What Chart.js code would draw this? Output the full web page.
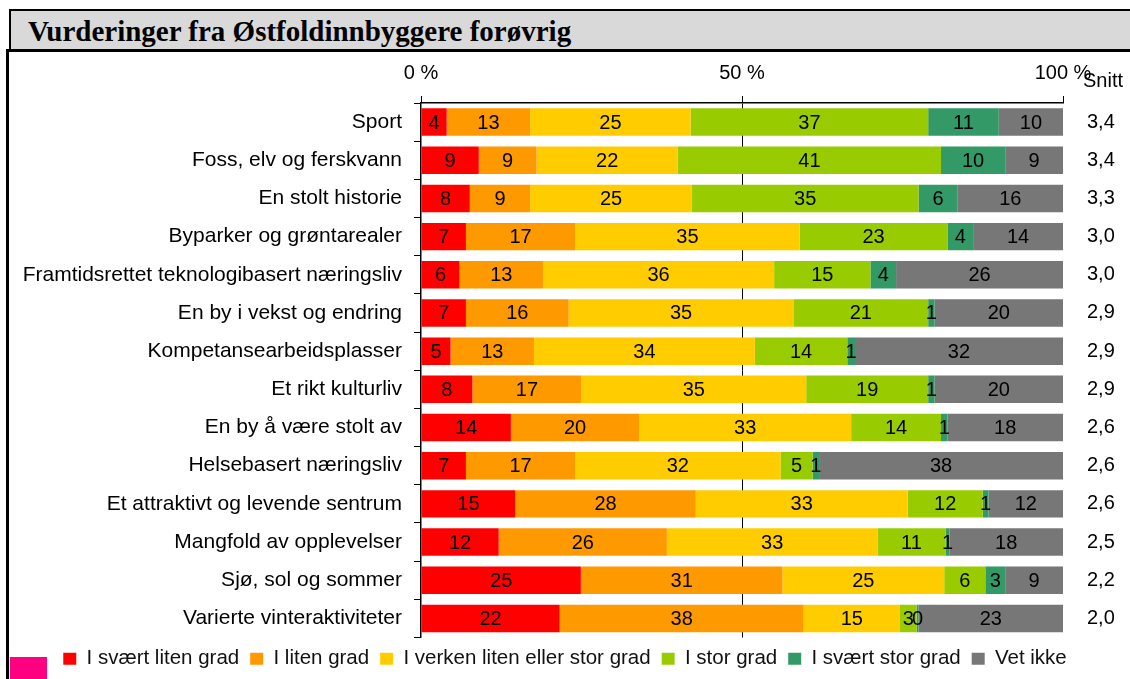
<!DOCTYPE html>
<html>
<head>
<meta charset="utf-8">
<script src="https://cdn.jsdelivr.net/npm/chart.js@4/dist/chart.umd.min.js"></script>
<style>
  html, body { margin: 0; padding: 0; background: #fff; }
  body { width: 1130px; height: 679px; position: relative; overflow: hidden; }
  #titlebox {
    position: absolute; left: 9px; top: 9px; width: 1130px; height: 39px;
    background: #d9d9d9; border: 2px solid #000; border-right: none;
    font-family: "Liberation Serif", "Times New Roman", serif; font-weight: bold;
    font-size: 29px; line-height: 41px; padding-left: 17px; box-sizing: content-box;
  }
  #frame {
    position: absolute; left: 6px; top: 49px; width: 1130px; height: 640px;
    border-left: 3px solid #000; border-top: 3px solid #000;
  }
  #pink { position: absolute; left: 10px; top: 657px; width: 37px; height: 24px; background: #ff0080; }
  #wrap { position: absolute; left: 0; top: 0; width: 1130px; height: 679px; }
</style>
</head>
<body>
<div id="titlebox">Vurderinger fra Østfoldinnbyggere forøvrig</div>
<div id="frame"></div>
<div id="pink"></div>
<div id="wrap"><canvas id="chart"></canvas></div>
<script>
// Kategorier
var categories = ["Sport", "Foss, elv og ferskvann", "En stolt historie", "Byparker og grøntarealer",
                  "Framtidsrettet teknologibasert næringsliv", "En by i vekst og endring",
                  "Kompetansearbeidsplasser", "Et rikt kulturliv", "En by å være stolt av",
                  "Helsebasert næringsliv", "Et attraktivt og levende sentrum", "Mangfold av opplevelser",
                  "Sjø, sol og sommer", "Varierte vinteraktiviteter"];
var seriesNames = ["I svært liten grad", "I liten grad", "I verken liten eller stor grad",
                   "I stor grad", "I svært stor grad", "Vet ikke"];
var svaertLiten = [4, 9, 7.6, 7, 6, 7, 4.6, 8, 14, 7, 14.7, 12.1, 24.9, 21.6];
var liten       = [13, 9, 9.4, 17, 13, 16, 13, 17, 20, 17, 28.1, 26.2, 31.4, 38];
var verken      = [25, 22, 25.2, 35, 36, 35, 34.4, 35, 33, 32, 33, 32.8, 25.2, 15];
var stor        = [37, 41, 35.3, 23, 15, 21, 14.4, 19, 14, 5, 11.7, 10.6, 6.4, 2.6];
var svaertStor  = [11, 10, 6.1, 4, 4, 1, 1.2, 1, 1, 1, 0.9, 0.6, 3.1, 0.3];
var vetIkke     = [10, 9, 16.4, 14, 26, 20, 32.4, 20, 18, 38, 11.6, 17.7, 9, 22.5];
var snitt = ["3,4", "3,4", "3,3", "3,0", "3,0", "2,9", "2,9", "2,9", "2,6", "2,6", "2,6", "2,5", "2,2", "2,0"];
var xTicks = [0, 50, 100];
var colors = ["#ff0000", "#ff9900", "#ffcc00", "#99cc00", "#339966", "#777777"];

var FONT = "'Liberation Sans', Arial, sans-serif";

// tall inne i stolpene
var barLabels = {
    id: "barLabels",
    afterDatasetsDraw: function(chart) {
        var ctx = chart.ctx;
        ctx.save();
        ctx.font = "20px " + FONT;
        ctx.fillStyle = "#000";
        ctx.textAlign = "center";
        ctx.textBaseline = "middle";
        chart.data.datasets.forEach(function(ds, i) {
            chart.getDatasetMeta(i).data.forEach(function(el, j) {
                var cx = (el.x + el.base) / 2;
                ctx.fillText(Math.round(ds.data[j]), cx, el.y + 1);
            });
        });
        ctx.restore();
    }
};

// overskrift for snitt-kolonnen
var snittHeader = {
    id: "snittHeader",
    afterDraw: function(chart) {
        var ctx = chart.ctx;
        ctx.save();
        ctx.font = "20px " + FONT;
        ctx.fillStyle = "#000";
        ctx.textAlign = "center";
        ctx.textBaseline = "middle";
        ctx.fillText("Snitt", 1103, 81);
        ctx.restore();
    }
};

var datasets = [svaertLiten, liten, verken, stor, svaertStor, vetIkke].map(function(d, i) {
    return {
        label: seriesNames[i],
        data: d,
        backgroundColor: colors[i],
        borderWidth: 0,
        barPercentage: 0.72,
        categoryPercentage: 1
    };
});

new Chart(document.getElementById("chart"), {
    type: "bar",
    data: { labels: categories, datasets: datasets },
    plugins: [barLabels, snittHeader],
    options: {
        indexAxis: "y",
        responsive: true,
        maintainAspectRatio: false,
        animation: false,
        layout: { padding: { left: 0, right: 0, top: 58, bottom: 0 } },
        scales: {
            x: {
                position: "top",
                stacked: true,
                min: 0,
                max: 100,
                afterBuildTicks: function(s) { s.ticks = xTicks.map(function(v) { return { value: v }; }); },
                afterFit: function(s) { s.height = 45; },
                ticks: {
                    color: "#000",
                    font: { family: FONT, size: 20 },
                    padding: 11,
                    callback: function(v) { return v + " %"; }
                },
                grid: {
                    color: function(c) { return c.tick && c.tick.value === 50 ? "#000" : "rgba(0,0,0,0)"; },
                    tickColor: "#000",
                    tickLength: 7,
                    lineWidth: 1
                },
                border: { color: "#000", width: 1.5 }
            },
            y: {
                stacked: true,
                afterFit: function(s) { s.width = 421; },
                ticks: {
                    color: "#000",
                    font: { family: FONT, size: 21 },
                    padding: 12
                },
                grid: { offset: true, drawOnChartArea: false, tickColor: "#000", tickLength: 7 },
                border: { color: "#000", width: 1.5 }
            },
            snitt: {
                type: "category",
                labels: snitt,
                position: "right",
                offset: true,
                afterFit: function(s) { s.width = 67; },
                ticks: {
                    color: "#000",
                    font: { family: FONT, size: 20 },
                    padding: 24
                },
                grid: { display: false, drawTicks: false },
                border: { display: false }
            }
        },
        plugins: {
            legend: {
                position: "bottom",
                labels: {
                    color: "#111",
                    font: { family: FONT, size: 20.5 },
                    boxWidth: 13,
                    boxHeight: 12,
                    padding: 11
                }
            },
            tooltip: { enabled: false }
        }
    }
});
</script>
</body>
</html>
